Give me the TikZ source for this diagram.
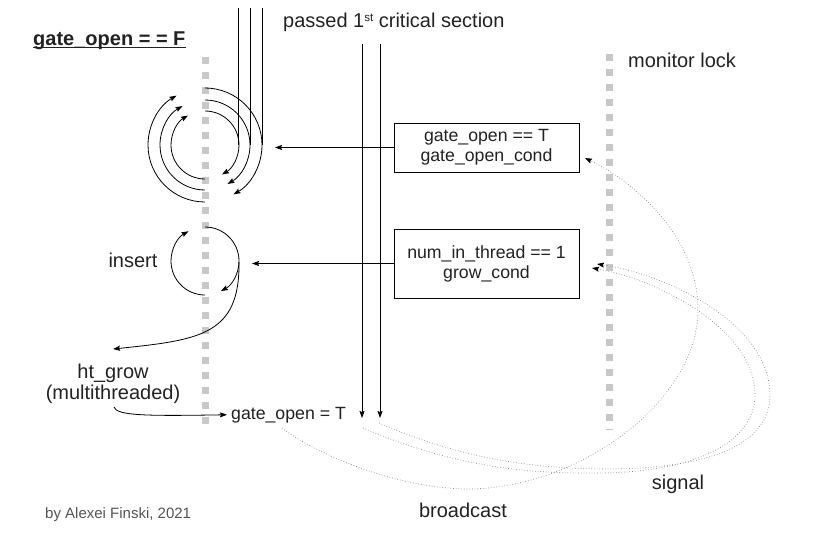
\documentclass[tikz,border=0pt]{standalone}
\usepackage{fontspec}
\setmainfont{Liberation Sans}
\usetikzlibrary{arrows.meta}
\definecolor{txt}{HTML}{222222}
\definecolor{lanegray}{HTML}{C8C8C8}
\definecolor{dotgray}{HTML}{8C8C8C}
\definecolor{credit}{HTML}{555555}
\begin{document}
\begin{tikzpicture}[x=1pt,y=-1pt,
  line/.style={line width=0.8pt, black},
  arr/.style={line, -{Stealth[length=7pt,width=5pt,inset=1pt]}},
  lane/.style={line width=7pt, lanegray, dash pattern=on 7pt off 8pt},
  dotl/.style={line width=0.7pt, dotgray, dash pattern=on 0.7pt off 2pt,
               -{Stealth[length=7pt,width=5pt,inset=1pt,black]}},
  lbl/.style={font=\fontsize{20}{22}\selectfont, text=txt, inner sep=0pt},
  boxlbl/.style={font=\fontsize{17.7}{20}\selectfont, text=txt, align=center, inner sep=0pt},
  cbox/.style={draw, line width=0.8pt, minimum width=185pt, minimum height=49pt}
]
\useasboundingbox (0,0) rectangle (816,533);

% lanes
\draw[lane] (205,57) -- (205,430);
\draw[lane] (609,54) -- (609,430);

% title
\node[lbl, font=\fontsize{20}{22}\selectfont\bfseries, anchor=base west] (gF) at (33,45) {gate\_open = = F};
\draw[line width=1.3pt, txt] ([yshift=-2.5pt]gF.base west) -- ([yshift=-2.5pt]gF.base east);

\node[lbl, anchor=base west] (pcs) at (283,27) {passed 1\raisebox{5.5pt}{\fontsize{11.5}{12}\selectfont st} critical section};
\node[lbl, anchor=base west] (ml) at (628,67) {monitor lock};

% incoming threads at the top
\draw[line] (238,8) -- (238,145);
\draw[line] (250,8) -- (250,145);
\draw[line] (262,8) -- (262,145);

% waiting loops
\foreach \r in {34,45,57} {
  \draw[arr] (205,145) ++(-90:\r) arc[start angle=-90, end angle=60, radius=\r];
  \draw[arr] (205,145) ++(90:\r) arc[start angle=90, end angle=240, radius=\r];
}

% insert loop
\node[lbl, anchor=base] (ins) at (133,267) {insert};
\draw[arr] (205,261) ++(-90:34) arc[start angle=-90, end angle=62, radius=34];
\draw[arr] (205,261) ++(90:34) arc[start angle=90, end angle=241, radius=34];

% ht_grow
\node[lbl, anchor=base] (htg) at (113,378) {ht\_grow};
\node[lbl, anchor=base] (mt) at (113,399) {(multithreaded)};
\coordinate (htgin) at (113,349);
\draw[arr] (239,262) .. controls (240,335) and (200,340) .. (htgin);

\node[boxlbl, anchor=base west] (go) at (231,419) {gate\_open = T};
\coordinate (mtout) at (114,407);
\draw[arr] (mtout) .. controls (116,416) and (150,416) .. ([xshift=-4pt]go.west);

% boxes
\node[cbox, boxlbl] (b1) at (486.5,147.5) {gate\_open == T\\gate\_open\_cond};
\node[cbox, boxlbl, minimum height=69pt] (b2) at (486.5,263.5) {num\_in\_thread == 1\\grow\_cond};
\coordinate (t1) at (275,147.5);
\coordinate (t2) at (252,263.5);
\draw[arr] (b1.west) -- (t1);
\draw[arr] (b2.west) -- (t2);

% threads passing the first critical section
\coordinate (p1) at (362,418);
\coordinate (p2) at (380,418);
\draw[arr] (362,44) -- (p1);
\draw[arr] (380,44) -- (p2);

% broadcast / signal
\coordinate (bc) at (282,428);
\coordinate (s1) at (363,428);
\coordinate (s2) at (379,423);
\coordinate (b1in) at (585,158);
\coordinate (b2in1) at (592,268);
\coordinate (b2in2) at (597,264);
\draw[dotl] (bc) .. controls (310,450) and (390,488) .. (467,489)
  .. controls (580,489) and (698,400) .. (698,310)
  .. controls (698,240) and (640,185) .. (b1in);
\draw[dotl] (s1) .. controls (450,465) and (520,474) .. (600,473)
  .. controls (700,472) and (755,440) .. (755,395)
  .. controls (755,330) and (660,280) .. (b2in1);
\draw[dotl] (s2) .. controls (460,458) and (530,469) .. (610,469)
  .. controls (720,468) and (770,440) .. (770,395)
  .. controls (770,325) and (670,275) .. (b2in2);

\node[lbl, anchor=base] (sig) at (678,489) {signal};
\node[lbl, anchor=base] (brc) at (463,517) {broadcast};
\node[lbl, font=\fontsize{15}{17}\selectfont, text=credit, anchor=base west] (by) at (45,518) {by Alexei Finski, 2021};
\end{tikzpicture}
\end{document}
